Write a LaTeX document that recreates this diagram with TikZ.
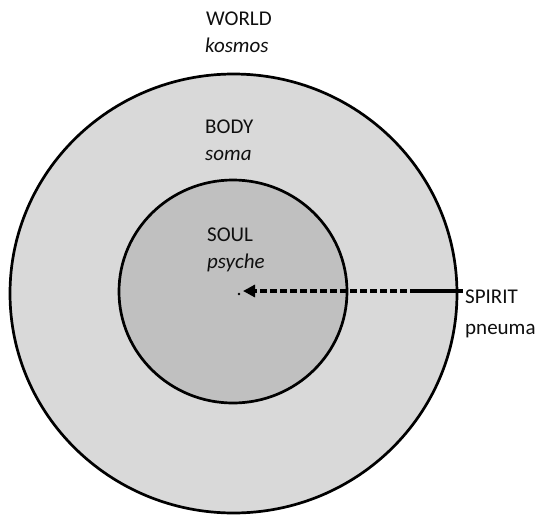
\documentclass[tikz,border=0pt]{standalone}
\usepackage{fontspec}
\setmainfont{Carlito}
\usetikzlibrary{arrows.meta}
\definecolor{outerfill}{RGB}{217,217,217}
\definecolor{innerfill}{RGB}{192,192,192}
\definecolor{txt}{RGB}{15,15,15}
\tikzset{
  ring/.style={draw=black, line width=2.7pt},
  lbl/.style={anchor=base west, inner sep=0pt, text=txt, font=\fontsize{21}{24}\selectfont},
  ilbl/.style={lbl, font=\fontsize{21}{24}\selectfont\itshape},
  spiritline/.style={line width=3.2pt, draw=black},
}
\begin{document}
\begin{tikzpicture}[x=1pt,y=-1pt]
\useasboundingbox (0,0) rectangle (547,515);
\path[fill=white] (0,0) rectangle (547,515);
\path[ring, fill=outerfill] (233.5,293.5) ellipse [x radius=223.5, y radius=219.5];
\path[ring, fill=innerfill] (233,291.5) ellipse [x radius=114, y radius=111.5];
\node[lbl] (world) at (206,25) {WORLD};
\node[ilbl] (kosmos) at (205,52) {kosmos};
\node[lbl] (body) at (205,133) {BODY};
\node[ilbl] (soma) at (205,160) {soma};
\node[lbl] (soul) at (207,241) {SOUL};
\node[ilbl] (psyche) at (207,268) {psyche};
\node[lbl] (spirit) at (465,303) {SPIRIT};
\node[lbl] (pneuma) at (465,334) {pneuma};
\coordinate (center) at (243,291);
\coordinate (dashstart) at (417,291);
\coordinate (spiritend) at (463,291);
\fill[black] (239,294) circle (1.3);
\draw[spiritline] (spiritend) -- (dashstart);
\draw[spiritline, dash pattern=on 7pt off 3pt, -{Triangle[length=12pt,width=12pt]}] (dashstart) -- (center);
\end{tikzpicture}
\end{document}
